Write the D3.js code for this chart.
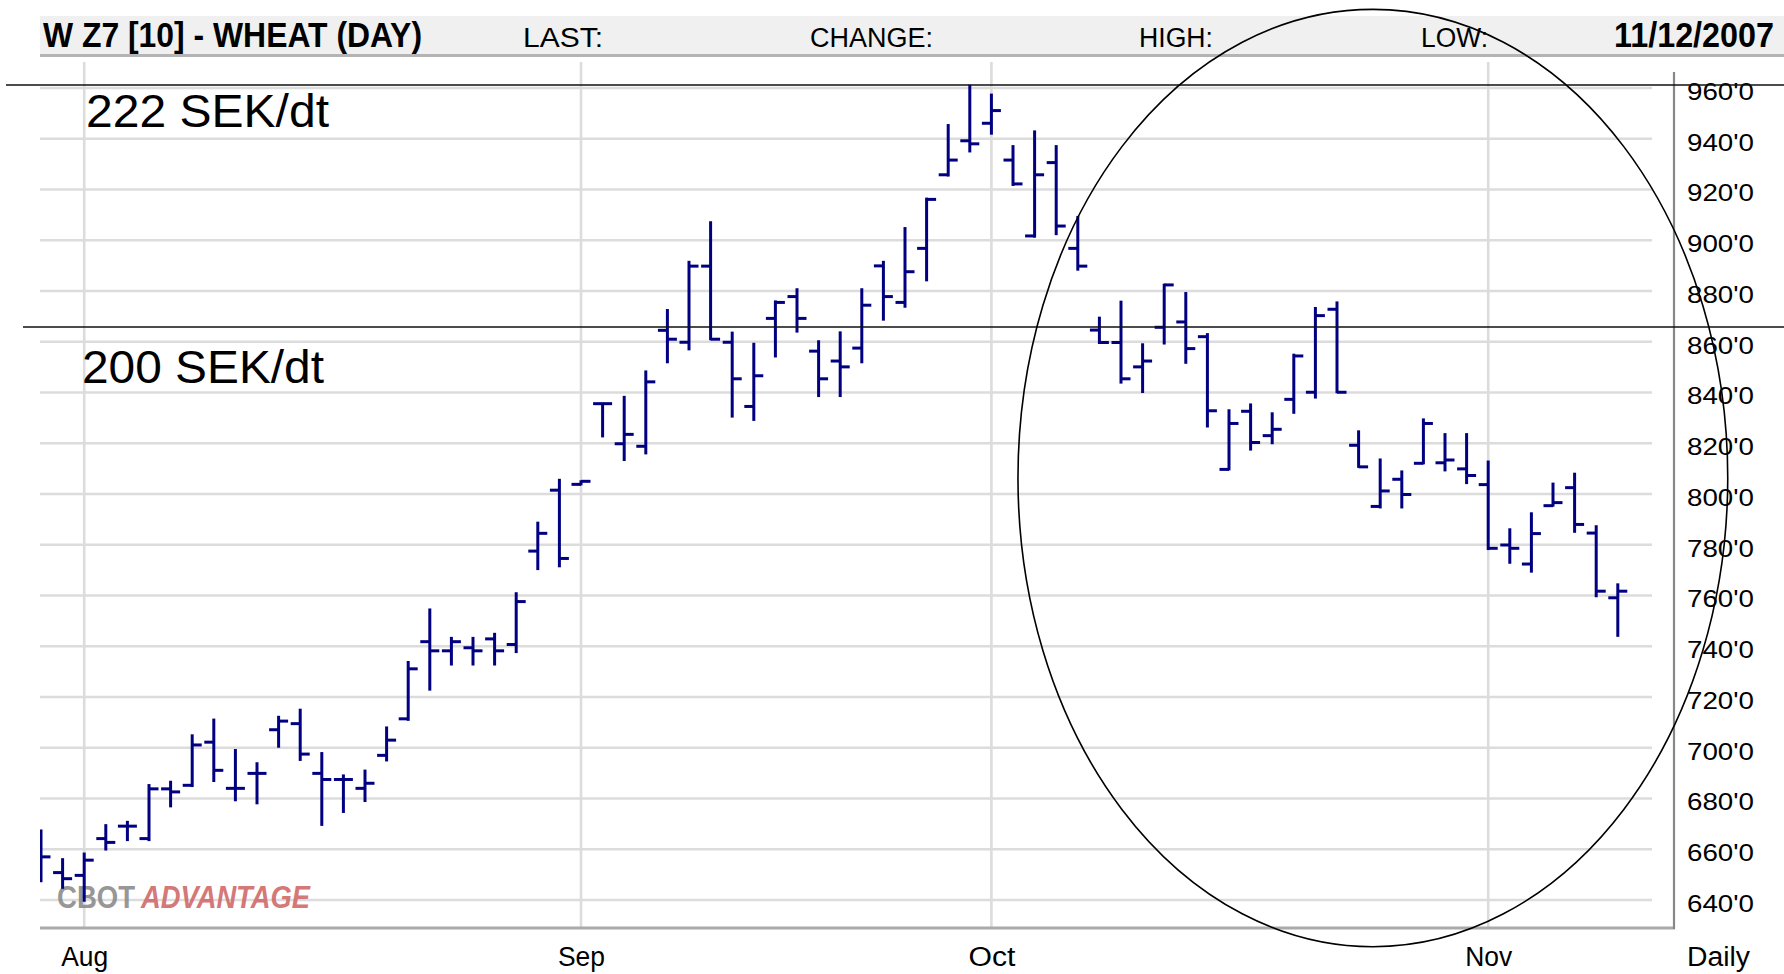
<!DOCTYPE html>
<html><head><meta charset="utf-8">
<script src="https://cdn.jsdelivr.net/npm/d3@7"></script>
<style>body{margin:0;background:#fff}svg{display:block}</style>
</head><body><svg id="c" width="1784" height="974"></svg>
<script>
// ---- data (CBOT wheat Dec-07, daily OHLC, 30 Jul - 9 Nov 2007) ----
const openP  = [660,650.8,649.7,664.2,669.1,664.2,683.8,685.2,702.2,684.0,689.9,707.1,709.5,689.9,687.5,684,697,711.4,741.8,738.2,739.4,742.9,740.7,777.5,801.5,803.8,835.6,819.8,818.8,864.5,859.8,889.8,859.8,834.5,869.2,877.8,856.3,852.4,857.5,889.9,875.5,896.8,925.8,939.2,946.1,931.6,901.7,930.6,896.8,864.6,859.7,850.1,865.7,867.8,862.0,809.7,832.6,823.0,837.3,840.1,872.8,819.2,795.1,805.8,812.1,812.3,809.9,803.7,779.9,772.4,795.4,802.5,784.6,759.1];
const highP  = [667.4,656.1,658.3,669.5,670.8,685.3,686.6,704.9,711.1,699.1,693.9,712.2,715.0,697.9,689.1,691,708,733.8,754.5,743.3,743.3,744.9,760.9,788.7,805.6,805.0,835.6,838.3,848.3,872.5,891.5,907.1,863.6,859.2,875.9,880.7,860.2,863.7,880.7,891.5,904.8,916.4,945.4,960.9,957.4,937.1,942.9,937.1,909.2,869.5,875.8,859.0,882.5,879.2,863.0,833.0,835.3,831.8,854.9,873.3,875.5,824.7,813.6,808.9,829.4,823.6,823.6,812.8,786.1,792.4,804.1,808.0,787.3,764.4];
const lowP   = [647.4,644.8,639.7,659.9,663.6,663.6,676.9,684.9,686.9,679.3,678.1,700.4,695.2,669.6,674.7,679,695,711.0,722.9,732.8,732.8,732.8,737.7,770.4,771.5,803.8,822.7,813.4,816.0,851.9,857.0,861.0,830.5,829.2,854.2,864.0,838.6,838.6,851.9,868.7,873.8,884.2,925.5,935.0,942.0,921.8,901.4,902.4,888.4,859.5,843.9,840.2,859.3,851.7,826.6,809.7,817.5,820.0,832.0,838.0,840.1,810.7,794.7,794.7,812.1,809.3,804.3,778.3,772.9,769.4,795.4,785.1,759.7,744.1];
const closeP = [657.0,648.4,655.7,662.7,669.1,683.8,682.6,701.1,691.1,684.0,689.9,710.5,697.5,687.5,687.5,686,703,731.1,738.2,741.8,738.2,738.2,757.6,784.5,774.6,805.0,835.6,823.5,844.2,861.0,889.8,861.0,845.4,846.6,875.5,869.2,845.4,850.1,874.4,877.8,887.6,916.1,931.6,938.0,951.1,922.2,925.8,905.6,889.8,859.7,845.4,852.4,882.4,857.3,832.8,827.8,820.3,825.5,854.4,870.3,840.1,810.7,801.2,799.8,827.8,813.4,807.3,778.6,778.6,784.4,796.6,788.0,761.7,761.7];

const yTickValues = [640,660,680,700,720,740,760,780,800,820,840,860,880,900,920,940,960];
const monthLabels = ["Aug","Sep","Oct","Nov"];
const headerFields = ["LAST:","CHANGE:","HIGH:","LOW:"];
const titleText = "W Z7 [10] - WHEAT (DAY)";
const dateText = "11/12/2007";
const annotationLevels = [961.2, 865.8];          // price levels of the drawn lines
const annotationTexts  = ["222 SEK/dt","200 SEK/dt"];

// trading days 30 Jul 2007 .. 9 Nov 2007 (weekdays, Labor Day closed)
const parse = d3.timeParse("%Y-%m-%d"), fmt = d3.timeFormat("%Y-%m-%d");
const tradingDays = d3.timeDay.range(parse("2007-07-30"), parse("2007-11-10"))
  .filter(d => d.getDay() !== 0 && d.getDay() !== 6 && fmt(d) !== "2007-09-03");
const bars = tradingDays.map((d, i) => ({date: d, i, o: openP[i], h: highP[i], l: lowP[i], c: closeP[i]}));

// ---- layout ----
const svg = d3.select("#c");
const x = d3.scaleLinear().domain([0, bars.length - 1]).range([41, 1617.8]);
const y = d3.scaleLinear().domain([640, 960]).range([900, 88]);
const plotL = 40, plotR = 1652, axisX = 1674, bottomY = 928;
const navy = "#000080";
const FONT = "Liberation Sans, Arial, sans-serif";

// header
svg.append("rect").attr("x", 40).attr("y", 16).attr("width", 1744).attr("height", 39).attr("fill", "#f0f0f0");
svg.append("line").attr("x1", 40).attr("x2", 1784).attr("y1", 55.5).attr("y2", 55.5).attr("stroke", "#b4b4b4").attr("stroke-width", 3);
svg.append("text").attr("x", 43).attr("y", 47).text(titleText)
  .attr("font-family", FONT).attr("font-weight", "bold").attr("font-size", 35)
  .attr("textLength", 379).attr("lengthAdjust", "spacingAndGlyphs");
const hx = [523, 810, 1139, 1421], hw = [80, 123, 74, 67];
headerFields.forEach((t, k) => svg.append("text").attr("x", hx[k]).attr("y", 47).text(t)
  .attr("font-family", FONT).attr("font-size", 27)
  .attr("textLength", hw[k]).attr("lengthAdjust", "spacingAndGlyphs"));
svg.append("text").attr("x", 1614).attr("y", 47).text(dateText)
  .attr("font-family", FONT).attr("font-weight", "bold").attr("font-size", 35)
  .attr("textLength", 160).attr("lengthAdjust", "spacingAndGlyphs");

// gridlines
const grid = svg.append("g");
grid.selectAll("line.h").data(yTickValues).join("line")
  .attr("x1", plotL).attr("x2", plotR).attr("y1", d => y(d)).attr("y2", d => y(d))
  .attr("stroke", "#dcdcdc").attr("stroke-width", 2.6);
const monthIdx = monthLabels.map((m, k) => bars.findIndex(b => b.date.getMonth() === 7 + k));
grid.selectAll("line.v").data(monthIdx).join("line")
  .attr("x1", d => x(d)).attr("x2", d => x(d)).attr("y1", 62).attr("y2", bottomY)
  .attr("stroke", "#dcdcdc").attr("stroke-width", 2.6);

// watermark
svg.append("text").attr("x", 57).attr("y", 908).text("CBOT").attr("font-family", FONT)
  .attr("font-weight", "bold").attr("font-size", 31).attr("fill", "#8c8c8c").attr("opacity", 0.9)
  .attr("textLength", 78).attr("lengthAdjust", "spacingAndGlyphs");
svg.append("text").attr("x", 141).attr("y", 908).text("ADVANTAGE").attr("font-family", FONT)
  .attr("font-weight", "bold").attr("font-style", "italic").attr("font-size", 31).attr("fill", "#d06a6a").attr("opacity", 0.9)
  .attr("textLength", 169).attr("lengthAdjust", "spacingAndGlyphs");

// axes lines
svg.append("line").attr("x1", plotL).attr("x2", axisX + 1).attr("y1", bottomY).attr("y2", bottomY).attr("stroke", "#aaaaaa").attr("stroke-width", 3);
svg.append("line").attr("x1", axisX).attr("x2", axisX).attr("y1", 72).attr("y2", bottomY + 1).attr("stroke", "#888888").attr("stroke-width", 2.2);

// right y axis labels via d3 axis
const yAxis = d3.axisRight(y).tickValues(yTickValues).tickSize(0).tickPadding(0).tickFormat(d => d + "'0");
const ya = svg.append("g").attr("transform", `translate(1687,0)`).call(yAxis);
ya.select(".domain").remove();
ya.selectAll("text").attr("font-family", FONT).attr("font-size", 24).attr("fill", "#000")
  .attr("dy", "0.72em").attr("y", -6).attr("textLength", 67).attr("lengthAdjust", "spacingAndGlyphs");

// bottom month labels via d3 axis
const xAxis = d3.axisBottom(x).tickValues(monthIdx).tickSize(0).tickPadding(0).tickFormat((d, k) => monthLabels[k]);
const xa = svg.append("g").call(xAxis);
xa.select(".domain").remove();
xa.selectAll("text").attr("font-family", FONT).attr("font-size", 27).attr("fill", "#000")
  .attr("y", 966).attr("dy", 0).attr("textLength", 47).attr("lengthAdjust", "spacingAndGlyphs");
svg.append("text").attr("x", 1687).attr("y", 966).text("Daily").attr("font-family", FONT)
  .attr("font-size", 27).attr("textLength", 63).attr("lengthAdjust", "spacingAndGlyphs");

// OHLC bars
svg.append("clipPath").attr("id", "pc").append("rect").attr("x", plotL).attr("y", 60).attr("width", plotR - plotL).attr("height", bottomY - 60);
const g = svg.append("g").attr("clip-path", "url(#pc)");
const tick = 9.5, sw = 3;
const bg = g.selectAll("g.bar").data(bars).join("g");
bg.append("line").attr("x1", d => x(d.i)).attr("x2", d => x(d.i)).attr("y1", d => y(d.h) - 1).attr("y2", d => y(d.l) + 1)
  .attr("stroke", navy).attr("stroke-width", sw);
bg.append("line").attr("x1", d => x(d.i) - tick).attr("x2", d => x(d.i)).attr("y1", d => y(d.o)).attr("y2", d => y(d.o))
  .attr("stroke", navy).attr("stroke-width", sw);
bg.append("line").attr("x1", d => x(d.i)).attr("x2", d => x(d.i) + tick).attr("y1", d => y(d.c)).attr("y2", d => y(d.c))
  .attr("stroke", navy).attr("stroke-width", sw);

// annotations: horizontal lines and labels
svg.append("line").attr("x1", 6).attr("x2", 1784).attr("y1", y(annotationLevels[0])).attr("y2", y(annotationLevels[0]))
  .attr("stroke", "#111").attr("stroke-width", 1.6);
svg.append("line").attr("x1", 23).attr("x2", 1784).attr("y1", y(annotationLevels[1])).attr("y2", y(annotationLevels[1]))
  .attr("stroke", "#111").attr("stroke-width", 1.6);
svg.append("text").attr("x", 86).attr("y", 127).text(annotationTexts[0]).attr("font-family", FONT)
  .attr("font-size", 46).attr("textLength", 243).attr("lengthAdjust", "spacingAndGlyphs");
svg.append("text").attr("x", 82).attr("y", 383).text(annotationTexts[1]).attr("font-family", FONT)
  .attr("font-size", 46).attr("textLength", 242).attr("lengthAdjust", "spacingAndGlyphs");

// ellipse (center in data units: bar index / price)
const ell = {ci: 61.66, cp: 806.3, ri: 16.43, rp: 184.7};
svg.append("ellipse").attr("cx", x(ell.ci)).attr("cy", y(ell.cp))
  .attr("rx", x(ell.ci + ell.ri) - x(ell.ci)).attr("ry", y(ell.cp - ell.rp) - y(ell.cp))
  .attr("fill", "none").attr("stroke", "#000").attr("stroke-width", 1.6);
</script></body></html>
